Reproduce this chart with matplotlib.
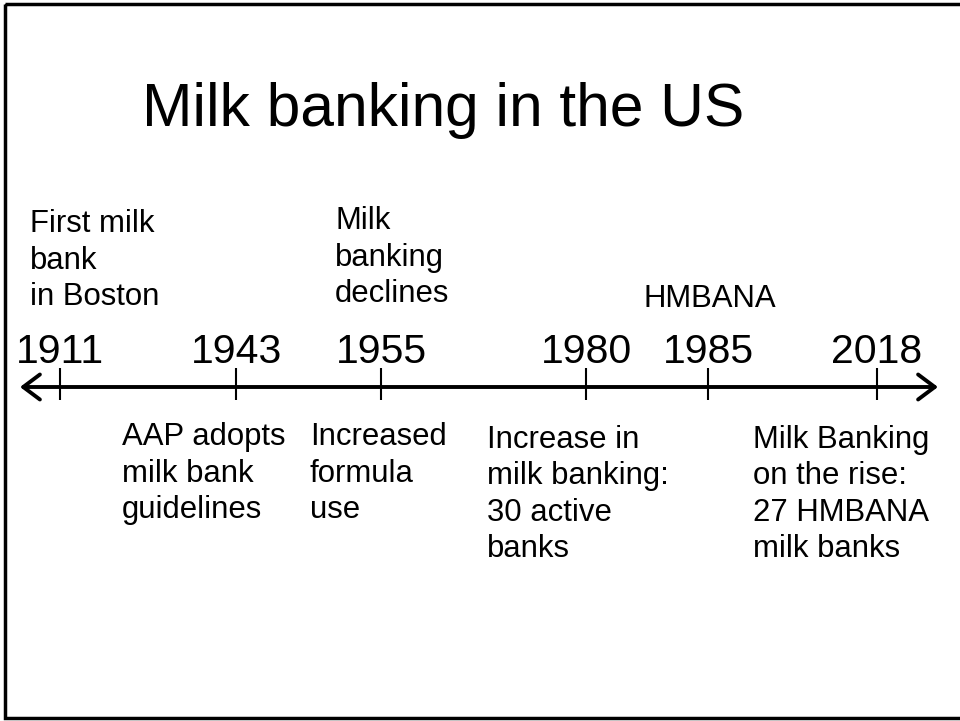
import matplotlib.pyplot as plt
from matplotlib.patches import Rectangle

plt.rcParams['font.family'] = ['Liberation Sans', 'DejaVu Sans']

# timeline content
title = "Milk banking in the US"
years = ["1911", "1943", "1955", "1980", "1985", "2018"]
above_labels = ["First milk\nbank\nin Boston", "Milk\nbanking\ndeclines", "HMBANA"]
below_labels = ["AAP adopts\nmilk bank\nguidelines",
                "Increased\nformula\nuse",
                "Increase in\nmilk banking:\n30 active\nbanks",
                "Milk Banking\non the rise:\n27 HMBANA\nmilk banks"]

# layout (pixels, slide coordinates); y = baseline of the LAST line
tick_x = [60, 236, 381, 586, 708, 877]
above_pos = [(30, 305, 'left'), (335, 302, 'left'), (710, 307, 'center')]
below_pos = [(122, 518), (310, 518), (487, 557), (753, 557)]
axis_y = 387


def main():
    fig = plt.figure(figsize=(9.6, 7.21), dpi=100)
    ax = fig.add_axes([0, 0, 1, 1])
    ax.set_xlim(0, 960)
    ax.set_ylim(721, 0)
    ax.axis('off')

    ax.add_patch(Rectangle((4.5, 4), 965, 714, fill=False, lw=2.5, ec='black'))

    ax.text(142, 126, title, fontsize=43.6, ha='left', va='baseline')

    ax.annotate('', xy=(938, axis_y), xytext=(20, axis_y),
                arrowprops=dict(arrowstyle='<->,head_length=0.6,head_width=0.45',
                                lw=2.8, color='black', mutation_scale=20,
                                shrinkA=0, shrinkB=0))
    ax.vlines(tick_x, 368, 400, color='black', lw=1.5)

    for x, yr in zip(tick_x, years):
        ax.text(x, 363, yr, fontsize=29.5, ha='center', va='baseline')

    for (x, y, ha), lab in zip(above_pos, above_labels):
        ax.text(x, y, lab, fontsize=22.4, ha=ha, va='baseline', linespacing=1.28,
                multialignment='left')

    for (x, y), lab in zip(below_pos, below_labels):
        ax.text(x, y, lab, fontsize=22.4, ha='left', va='baseline', linespacing=1.28)

    plt.savefig("out.png", dpi=100)


main()
